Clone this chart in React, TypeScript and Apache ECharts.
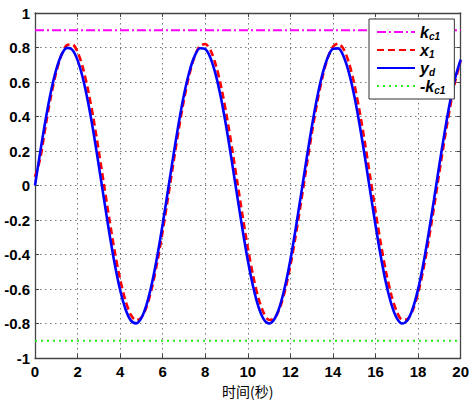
import React, { useEffect, useRef } from "react";
import * as echarts from "echarts";

// sample times (s)
const times: number[] = Array.from({ length: 81 }, (_, i) => i * 0.25);

// desired trajectory y_d
const ydValues: number[] = [
  0, 0.198, 0.383, 0.545, 0.673, 0.759, 0.798, 0.787, 0.727, 0.622,
  0.478, 0.306, 0.113, -0.086, -0.281, -0.458, -0.606, -0.716, -0.782, -0.799,
  -0.767, -0.687, -0.564, -0.406, -0.223, -0.026, 0.172, 0.36, 0.526, 0.658,
  0.75, 0.796, 0.791, 0.738, 0.638, 0.5, 0.33, 0.139, -0.06, -0.255,
  -0.435, -0.587, -0.704, -0.776, -0.8, -0.774, -0.701, -0.583, -0.43, -0.249,
  -0.053, 0.146, 0.336, 0.506, 0.643, 0.741, 0.793, 0.795, 0.748, 0.654,
  0.52, 0.354, 0.165, -0.034, -0.23, -0.413, -0.57, -0.69, -0.769, -0.8,
  -0.781, -0.713, -0.601, -0.452, -0.274, -0.08, 0.12, 0.311, 0.484, 0.627,
  0.73,
];

// state x_1
const x1Values: number[] = [
  0.05, 0.16, 0.347, 0.518, 0.658, 0.759, 0.814, 0.818, 0.774, 0.682,
  0.549, 0.385, 0.196, -0.002, -0.201, -0.386, -0.544, -0.667, -0.749, -0.781,
  -0.765, -0.7, -0.589, -0.441, -0.264, -0.07, 0.129, 0.323, 0.498, 0.642,
  0.748, 0.809, 0.82, 0.783, 0.697, 0.57, 0.408, 0.222, 0.024, -0.174,
  -0.361, -0.524, -0.654, -0.74, -0.78, -0.77, -0.712, -0.607, -0.464, -0.29,
  -0.097, 0.103, 0.298, 0.476, 0.625, 0.737, 0.804, 0.822, 0.791, 0.711,
  0.589, 0.431, 0.248, 0.05, -0.149, -0.338, -0.505, -0.638, -0.731, -0.778,
  -0.775, -0.722, -0.623, -0.485, -0.314, -0.124, 0.077, 0.272, 0.453, 0.607,
  0.724,
];

const kc1 = 0.9;
const tRange = [0, 20];
const xTickStep = 2;
const yTickStep = 0.2;
const legendNames = ["kc1", "x1", "yd", "-kc1"];
const xAxisTitle = "时间(秒)";

const pair = (vals: number[]) => times.map((t, i) => [t, vals[i]]);

export default function App() {
  const ref = useRef<HTMLDivElement>(null);
  useEffect(() => {
    document.body.style.margin = "0";
    const chart = echarts.init(ref.current!, null, { renderer: "svg" });
    const labelFont = {
      color: "#000",
      fontWeight: "bold" as const,
      fontSize: 15,
      fontFamily: "Liberation Sans, Arial, sans-serif",
    };
    const frameLine = { show: true, onZero: false, lineStyle: { color: "#444", width: 1.3 } };
    const tick = { show: true, inside: true, length: 4, lineStyle: { color: "#444" } };
    const split = { show: true, lineStyle: { type: [1.5, 3.5] as any, color: "#777", width: 1 } };
    chart.setOption({
      animation: false,
      backgroundColor: "#fff",
      grid: { left: 35, right: 11, top: 13, bottom: 45 },
      xAxis: [
        {
          type: "value",
          min: tRange[0],
          max: tRange[1],
          interval: xTickStep,
          position: "bottom",
          axisLine: frameLine,
          axisTick: tick,
          axisLabel: { ...labelFont, margin: 6 },
          splitLine: split,
          name: xAxisTitle,
          nameLocation: "middle",
          nameGap: 19,
          nameTextStyle: {
            color: "#000",
            fontSize: 14,
            fontFamily: "Noto Sans CJK SC",
            verticalAlign: "top",
          },
        },
        {
          type: "value",
          min: tRange[0],
          max: tRange[1],
          interval: xTickStep,
          position: "top",
          axisLine: frameLine,
          axisTick: tick,
          axisLabel: { show: false },
          splitLine: { show: false },
        },
      ],
      yAxis: [
        {
          type: "value",
          min: -1,
          max: 1,
          interval: yTickStep,
          position: "left",
          axisLine: frameLine,
          axisTick: tick,
          axisLabel: {
            ...labelFont,
            margin: 5,
            formatter: (v: number) => String(Math.round(v * 10) / 10),
          },
          splitLine: split,
        },
        {
          type: "value",
          min: -1,
          max: 1,
          interval: yTickStep,
          position: "right",
          axisLine: frameLine,
          axisTick: tick,
          axisLabel: { show: false },
          splitLine: { show: false },
        },
      ],
      legend: {
        data: legendNames,
        orient: "vertical",
        left: 369,
        top: 19,
        padding: [4, 9, 4, 7],
        itemGap: 0,
        itemWidth: 38,
        itemHeight: 12,
        backgroundColor: "#fff",
        borderColor: "#333",
        borderWidth: 1,
        borderRadius: 0,
        itemStyle: { opacity: 0 },
        formatter: (name: string) => {
          if (name === "kc1") return "{b|k}{s|c1}";
          if (name === "x1") return "{b|x}{s|1}";
          if (name === "yd") return "{b|y}{s|d}";
          return "{b|-k}{s|c1}";
        },
        textStyle: {
          color: "#000",
          rich: {
            b: {
              fontSize: 16,
              fontWeight: "bold",
              fontStyle: "italic",
              fontFamily: "Liberation Sans, Arial",
              color: "#000",
              lineHeight: 16,
            },
            s: {
              fontSize: 10,
              fontWeight: "bold",
              fontStyle: "italic",
              fontFamily: "Liberation Sans, Arial",
              color: "#000",
              lineHeight: 8,
              padding: [8, 0, 0, 0],
            },
          },
        },
      },
      series: [
        {
          name: "kc1",
          type: "line",
          symbol: "none",
          data: [[tRange[0], kc1], [tRange[1], kc1]],
          lineStyle: { color: "#ff00ff", width: 1.8, type: [9, 3, 2, 3] },
          itemStyle: { color: "#ff00ff" },
        },
        {
          name: "x1",
          type: "line",
          symbol: "none",
          smooth: 0.3,
          data: pair(x1Values),
          lineStyle: { color: "#ff0000", width: 2.6, type: [7, 4] },
          itemStyle: { color: "#ff0000" },
        },
        {
          name: "yd",
          type: "line",
          symbol: "none",
          smooth: 0.3,
          data: pair(ydValues),
          lineStyle: { color: "#0000ff", width: 2.6 },
          itemStyle: { color: "#0000ff" },
        },
        {
          name: "-kc1",
          type: "line",
          symbol: "none",
          data: [[tRange[0], -kc1], [tRange[1], -kc1]],
          lineStyle: { color: "#22ee22", width: 2, type: [2, 4] },
          itemStyle: { color: "#22ee22" },
        },
      ],
    });
    return () => chart.dispose();
  }, []);
  return (
    <div
      ref={ref}
      style={{ position: "fixed", left: 0, top: 0, width: 472, height: 403, background: "#fff" }}
    />
  );
}
